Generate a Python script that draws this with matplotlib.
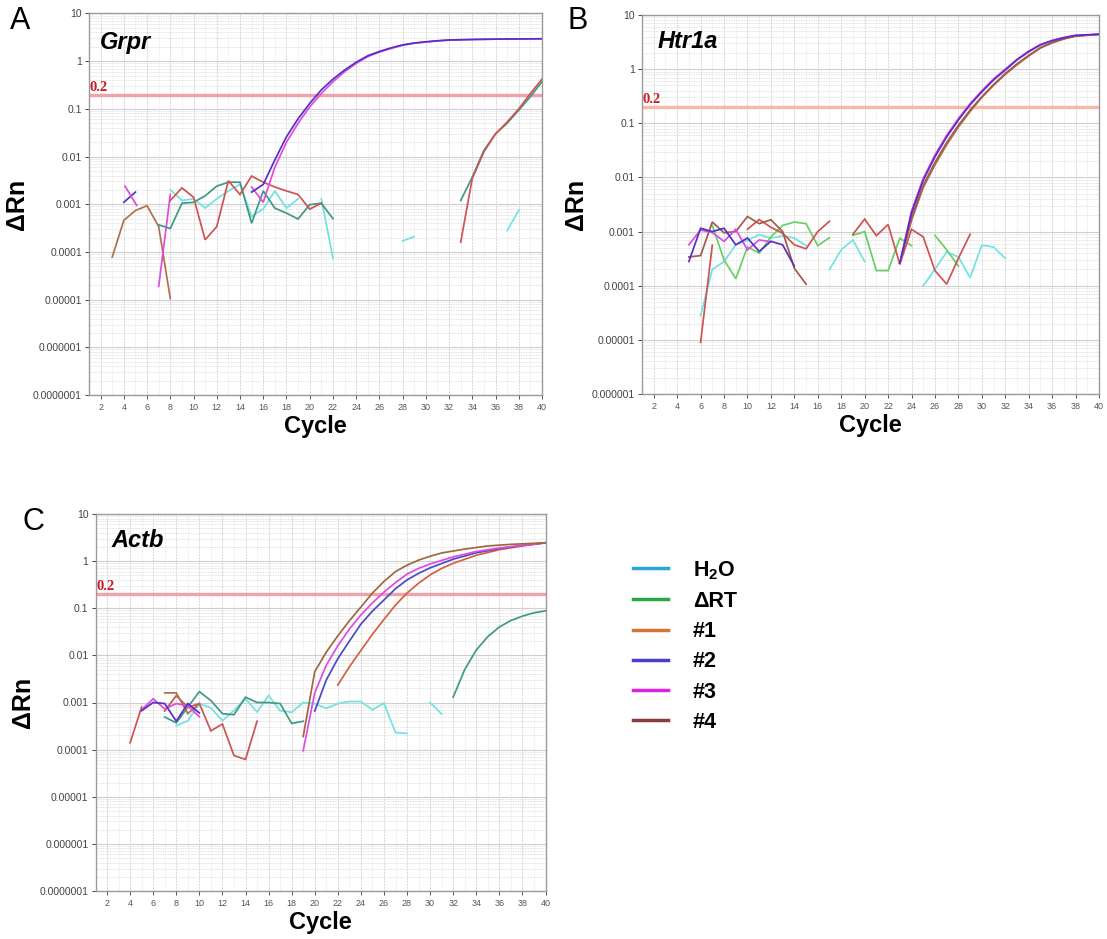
import numpy as np
import matplotlib
matplotlib.use("Agg")
import matplotlib.pyplot as plt
from matplotlib.lines import Line2D
from matplotlib.ticker import FixedLocator, NullFormatter, LogLocator

plt.rcParams['font.family'] = ['Liberation Sans', 'DejaVu Sans']
plt.rcParams['mathtext.fontset'] = 'custom'
plt.rcParams['mathtext.rm'] = 'Liberation Sans'
plt.rcParams['mathtext.bf'] = 'Liberation Sans:bold'

# ---------------- data ----------------
threshold = 0.2
cycle_ticks = list(range(2, 41, 2))

# Panel A: Grpr
grpr_brown_x = [3, 4, 5, 6, 7, 8]
grpr_brown_y = [7.8e-5, 4.6e-4, 7.4e-4, 9.3e-4, 3.4e-4, 1.05e-5]
grpr_xp_x = [4.0, 5.0]
grpr_xp_y = [1.1e-3, 1.8e-3]
grpr_xm_x = [4.1, 5.1]
grpr_xm_y = [2.4e-3, 0.95e-3]
grpr_mag0_x = [7, 8]
grpr_mag0_y = [1.9e-5, 1.6e-3]
grpr_red_x = [8, 9, 10, 11, 12, 13, 14, 15, 16, 17, 18, 19, 20, 21]
grpr_red_y = [1.2e-3, 2.2e-3, 1.4e-3, 1.8e-4, 3.4e-4, 3.1e-3, 1.6e-3, 3.9e-3,
              2.9e-3, 2.3e-3, 1.9e-3, 1.6e-3, 7.9e-4, 1.05e-3]
grpr_teal_x = [7, 8, 9, 10, 11, 12, 13, 14, 15, 16, 17, 18, 19, 20, 21, 22]
grpr_teal_y = [3.7e-4, 3.1e-4, 1.05e-3, 1.1e-3, 1.5e-3, 2.4e-3, 2.9e-3, 2.9e-3,
               4.0e-4, 1.9e-3, 8.3e-4, 6.5e-4, 4.9e-4, 9.8e-4, 1.05e-3, 5.0e-4]
grpr_cyan_x = [8, 9, 10, 11, 12, 13, 14, 15, 16, 17, 18, 19, np.nan, 21, 22,
               np.nan, 28, 29, np.nan, 37, 38]
grpr_cyan_y = [2.0e-3, 1.2e-3, 1.3e-3, 8.3e-4, 1.3e-3, 1.9e-3, 2.6e-3, 5.5e-4,
               8.0e-4, 1.9e-3, 8.3e-4, 1.3e-3, np.nan, 1.3e-3, 7.5e-5,
               np.nan, 1.7e-4, 2.1e-4, np.nan, 2.8e-4, 7.5e-4]
grpr_purple_x = [15, 16, 17, 18, 19, 20, 21, 22, 23, 24, 25, 26, 27, 28, 29, 30,
                 31, 32, 34, 36, 38, 40]
grpr_purple_y = [1.8e-3, 2.6e-3, 8.5e-3, 0.026, 0.062, 0.13, 0.25, 0.42, 0.65, 0.95,
                 1.3, 1.6, 1.9, 2.2, 2.4, 2.55, 2.68, 2.78, 2.85, 2.9, 2.93, 2.95]
grpr_magenta_x = [15, 16, 17, 18, 19, 20, 21, 22, 23, 24, 25, 26, 27, 28, 29, 30,
                  31, 32, 34, 36, 38, 40]
grpr_magenta_y = [2.3e-3, 1.1e-3, 6.0e-3, 0.02, 0.05, 0.11, 0.21, 0.37, 0.6, 0.9,
                  1.25, 1.55, 1.85, 2.15, 2.38, 2.53, 2.66, 2.77, 2.85, 2.9, 2.93, 2.95]
grpr_lteal_x = [33, 34, 35, 36, 37, 38, 39, 40]
grpr_lteal_y = [1.2e-3, 3.7e-3, 0.0135, 0.03, 0.05, 0.094, 0.18, 0.37]
grpr_lred_x = [33, 34, 35, 36, 37, 38, 39, 40]
grpr_lred_y = [1.6e-4, 3.5e-3, 0.0126, 0.03, 0.053, 0.1, 0.21, 0.42]

# Panel B: Htr1a
htr_cyan_x = [6, 7, 8, 9, 10, 11, 12, 13, 14, 15, np.nan, 17, 18, 19, 20,
              np.nan, 25, 26, 27, 28, 29, 30, 31, 32]
htr_cyan_y = [2.8e-5, 2.0e-4, 2.8e-4, 5.7e-4, 6.9e-4, 8.7e-4, 7.6e-4, 8.3e-4,
              7.6e-4, 5.5e-4, np.nan, 2.0e-4, 4.6e-4, 7.0e-4, 2.8e-4,
              np.nan, 1.0e-4, 2.0e-4, 4.2e-4, 3.4e-4, 1.4e-4, 5.6e-4, 5.2e-4, 3.2e-4]
htr_green_x = [7, 8, 9, 10, 11, 12, 13, 14, 15, 16, 17, np.nan, 19, 20, 21, 22,
               23, 24, np.nan, 26, 27, 28]
htr_green_y = [1.3e-3, 3.0e-4, 1.35e-4, 5.2e-4, 4.0e-4, 8.0e-4, 1.3e-3, 1.5e-3,
               1.4e-3, 5.5e-4, 7.7e-4, np.nan, 8.5e-4, 1.0e-3, 1.9e-4, 1.9e-4,
               7.5e-4, 5.5e-4, np.nan, 8.5e-4, 4.6e-4, 2.3e-4]
htr_red_x = [6, 7, np.nan, 10, 11, 12, 13, 14, 15, 16, 17, np.nan, 19, 20, 21,
             22, 23, 24, 25, 26, 27, 28, 29]
htr_red_y = [9.0e-6, 5.6e-4, np.nan, 1.1e-3, 1.67e-3, 1.2e-3, 9.3e-4, 5.7e-4,
             4.8e-4, 1.0e-3, 1.55e-3, np.nan, 8.9e-4, 1.7e-3, 8.4e-4, 1.35e-3,
             2.5e-4, 1.1e-3, 8.0e-4, 1.9e-4, 1.07e-4, 3.2e-4, 8.9e-4]
htr_brown_x = [5, 6, 7, 8, 9, 10, 11, 12, 13, 14, 15]
htr_brown_y = [3.4e-4, 3.6e-4, 1.5e-3, 9.5e-4, 1.0e-3, 1.9e-3, 1.4e-3, 1.65e-3,
               1.0e-3, 2.1e-4, 1.07e-4]
htr_magenta_x = [5, 6, 7, 8, 9, 10, 11, 12]
htr_magenta_y = [5.7e-4, 1.07e-3, 9.6e-4, 6.6e-4, 1.1e-3, 4.6e-4, 7.0e-4, 6.5e-4]
htr_purple_x = [5, 6, 7, 8, 9, 10, 11, 12, 13, 14]
htr_purple_y = [2.8e-4, 1.15e-3, 1.0e-3, 1.15e-3, 5.7e-4, 7.6e-4, 4.3e-4, 6.6e-4,
                5.7e-4, 2.3e-4]
htr_amp_x = [23, 24, 25, 26, 27, 28, 29, 30, 31, 32, 33, 34, 35, 36, 37, 38, 40]
htr_amp2_y = [2.6e-4, 2.2e-3, 8.9e-3, 0.024, 0.056, 0.115, 0.22, 0.38, 0.63, 0.96,
              1.48, 2.1, 2.8, 3.35, 3.8, 4.2, 4.4]
htr_amp3_y = [2.6e-4, 2.4e-3, 9.6e-3, 0.026, 0.06, 0.122, 0.23, 0.4, 0.66, 1.0,
              1.52, 2.15, 2.85, 3.4, 3.85, 4.2, 4.4]
htr_amp1_y = [2.6e-4, 1.6e-3, 6.5e-3, 0.017, 0.04, 0.085, 0.165, 0.3, 0.5, 0.8,
              1.2, 1.75, 2.45, 3.05, 3.6, 4.05, 4.4]
htr_amp4_y = [2.6e-4, 1.8e-3, 7.2e-3, 0.019, 0.044, 0.092, 0.175, 0.31, 0.52, 0.83,
              1.25, 1.8, 2.5, 3.1, 3.65, 4.1, 4.4]

# Panel C: Actb
actb_cyan_x = [8, 9, 10, 11, 12, 13, 14, 15, 16, 17, 18, 19, 20, 21, 22, 23, 24,
               25, 26, 27, 28, np.nan, 30, 31]
actb_cyan_y = [3.2e-4, 4.1e-4, 9.5e-4, 7.7e-4, 4.1e-4, 6.8e-4, 1.2e-3, 6.3e-4,
               1.4e-3, 6.7e-4, 6.2e-4, 1.0e-3, 9.5e-4, 7.5e-4, 9.5e-4, 1.05e-3,
               1.05e-3, 7.0e-4, 9.7e-4, 2.3e-4, 2.2e-4, np.nan, 1.0e-3, 5.7e-4]
actb_teal_x = [7, 8, 9, 10, 11, 12, 13, 14, 15, 16, 17, 18, 19]
actb_teal_y = [4.9e-4, 3.7e-4, 8.0e-4, 1.7e-3, 1.1e-3, 5.8e-4, 5.5e-4, 1.3e-3,
               1.0e-3, 1.0e-3, 9.5e-4, 3.6e-4, 4.0e-4]
actb_lteal_x = [32, 33, 34, 35, 36, 37, 38, 39, 40]
actb_lteal_y = [1.3e-3, 5.0e-3, 0.013, 0.025, 0.04, 0.055, 0.068, 0.08, 0.088]
actb_red_x = [4, 5, np.nan, 7, 8, 9, 10, 11, 12, 13, 14, 15]
actb_red_y = [1.4e-4, 8.0e-4, np.nan, 6.6e-4, 1.4e-3, 7.9e-4, 9.5e-4, 2.5e-4,
              3.5e-4, 7.5e-5, 6.2e-5, 4.0e-4]
actb_brown_x = [7, 8, 9, 10]
actb_brown_y = [1.6e-3, 1.6e-3, 5.8e-4, 9.5e-4]
actb_purple0_x = [5, 6, 7, 8, 9, 10]
actb_purple0_y = [6.7e-4, 1.0e-3, 9.5e-4, 4.0e-4, 9.5e-4, 6.0e-4]
actb_magenta0_x = [5, 6, 7, 8, 9, 10]
actb_magenta0_y = [7.0e-4, 1.2e-3, 7.3e-4, 9.5e-4, 8.5e-4, 5.0e-4]
actb_amp4_x = [19, 20, 21, 22, 23, 24, 25, 26, 27, 28, 29, 30, 31, 33, 35, 37, 40]
actb_amp4_y = [1.9e-4, 4.5e-3, 0.0117, 0.026, 0.054, 0.106, 0.21, 0.37, 0.6, 0.82,
               1.05, 1.27, 1.49, 1.8, 2.1, 2.27, 2.45]
actb_amp3_x = [19, 20, 21, 22, 23, 24, 25, 26, 27, 28, 29, 30, 32, 34, 36, 38, 40]
actb_amp3_y = [9.5e-5, 1.6e-3, 6.2e-3, 0.016, 0.036, 0.072, 0.13, 0.22, 0.35, 0.53,
               0.7, 0.87, 1.23, 1.6, 1.9, 2.15, 2.45]
actb_amp2_x = [20, 21, 22, 23, 24, 25, 26, 27, 28, 29, 30, 32, 34, 36, 38, 40]
actb_amp2_y = [6.6e-4, 3.0e-3, 8.5e-3, 0.02, 0.046, 0.087, 0.15, 0.26, 0.4, 0.55,
               0.72, 1.1, 1.5, 1.85, 2.15, 2.45]
actb_amp1_x = [22, 23, 24, 25, 26, 27, 28, 29, 30, 31, 32, 34, 36, 38, 40]
actb_amp1_y = [2.35e-3, 5.7e-3, 0.0127, 0.028, 0.058, 0.117, 0.21, 0.34, 0.51, 0.7,
               0.9, 1.33, 1.75, 2.1, 2.45]

legend_labels = [r'$\mathbf{H_2O}$', 'ΔRT', '#1', '#2', '#3', '#4']
legend_colors = ['#2aa7d9', '#27a844', '#d4733a', '#4a3bd1', '#e01fe0', '#8a3c3c']

# plot colours (as they appear in the instrument plots)
C_CYAN = '#72e2e2'
C_TEAL = '#3f9986'
C_GREEN = '#66d066'
C_RED = '#d05252'
C_BROWN = '#a45a48'
C_OBROWN = '#b0704c'
C_PURPLE = '#5530c6'
C_MAGENTA = '#e04ae0'
C_BLUE = '#4a4ac8'

W = 1107
H = 939
fig = plt.figure(figsize=(W / 100, H / 100), dpi=100)


def make_axes(px_left, px_right, px_top, px_bottom, ymin):
    ax = fig.add_axes([px_left / W, 1 - px_bottom / H,
                       (px_right - px_left) / W, (px_bottom - px_top) / H])
    ax.set_yscale('log')
    ax.set_xlim(1, 40)
    ax.set_ylim(ymin, 10)
    decs = [10.0 ** k for k in range(int(round(np.log10(ymin))), 2)]
    ax.set_yticks(decs)
    ax.set_yticklabels([('%.*f' % (max(0, -int(round(np.log10(d)))), d)) for d in decs])
    ax.yaxis.set_minor_locator(LogLocator(base=10, subs=np.arange(2, 10)))
    ax.yaxis.set_minor_formatter(NullFormatter())
    ax.set_xticks(cycle_ticks)
    ax.set_xticklabels([str(c) for c in cycle_ticks])
    ax.xaxis.set_minor_locator(FixedLocator(list(range(1, 41))))
    ax.tick_params(axis='y', which='major', labelsize=7.5, colors='#444444',
                   length=3, width=0.7, pad=2)
    ax.tick_params(axis='x', which='major', labelsize=6.5, colors='#555555',
                   length=3, width=0.7, pad=3)
    ax.tick_params(which='minor', length=0)
    ax.grid(True, which='major', axis='y', color='#cfcfcf', lw=0.8)
    ax.grid(True, which='minor', axis='y', color='#d9d9d9', lw=0.6, ls=(0, (1, 1)))
    ax.grid(True, which='major', axis='x', color='#d6d6d6', lw=0.7, ls=(0, (2, 1)))
    ax.grid(True, which='minor', axis='x', color='#dedede', lw=0.6, ls=(0, (1, 1.5)))
    ax.set_axisbelow(True)
    for s in ax.spines.values():
        s.set_color('#9a9a9a')
        s.set_linewidth(1.0)
    ax.set_xlabel('Cycle', fontsize=17, fontweight='bold', labelpad=2)
    ax.set_ylabel('ΔRn', fontsize=18, fontweight='bold', labelpad=3)
    return ax


def threshold_line(ax, color):
    ax.axhline(threshold, color=color, lw=2.4, zorder=2)
    ax.text(1.05, threshold * 1.05, '0.2', fontsize=10.5, fontweight='bold',
            family=['Liberation Serif'], color='#c81e28', ha='left', va='bottom', zorder=6)


def draw(ax, series):
    for x, y, c in series:
        ax.plot(x, y, color=c, lw=1.25, zorder=3, solid_joinstyle='miter')


# ---- Panel A ----
axA = make_axes(89, 542, 13.5, 395, 1e-7)
threshold_line(axA, '#f2a2aa')
draw(axA, [
    (grpr_brown_x, grpr_brown_y, C_OBROWN),
    (grpr_xp_x, grpr_xp_y, C_PURPLE),
    (grpr_xm_x, grpr_xm_y, C_MAGENTA),
    (grpr_mag0_x, grpr_mag0_y, C_MAGENTA),
    (grpr_cyan_x, grpr_cyan_y, C_CYAN),
    (grpr_teal_x, grpr_teal_y, C_TEAL),
    (grpr_red_x, grpr_red_y, C_RED),
    (grpr_magenta_x, grpr_magenta_y, C_MAGENTA),
    (grpr_purple_x, grpr_purple_y, C_PURPLE),
    (grpr_lteal_x, grpr_lteal_y, C_TEAL),
    (grpr_lred_x, grpr_lred_y, C_RED),
])
axA.text(0.025, 0.925, 'Grpr', transform=axA.transAxes, fontsize=17,
         fontweight='bold', style='italic', va='center', ha='left')
fig.text(10 / W, 1 - 21 / H, 'A', fontsize=22, va='center', ha='left')

# ---- Panel B ----
axB = make_axes(642, 1099, 15, 394, 1e-6)
threshold_line(axB, '#f7b8aa')
draw(axB, [
    (htr_cyan_x, htr_cyan_y, C_CYAN),
    (htr_green_x, htr_green_y, C_GREEN),
    (htr_red_x, htr_red_y, C_RED),
    (htr_brown_x, htr_brown_y, C_BROWN),
    (htr_magenta_x, htr_magenta_y, C_MAGENTA),
    (htr_purple_x, htr_purple_y, C_PURPLE),
    (htr_amp_x, htr_amp1_y, C_OBROWN),
    (htr_amp_x, htr_amp4_y, C_BROWN),
    (htr_amp_x, htr_amp3_y, C_MAGENTA),
    (htr_amp_x, htr_amp2_y, C_PURPLE),
])
axB.text(0.035, 0.93, 'Htr1a', transform=axB.transAxes, fontsize=17,
         fontweight='bold', style='italic', va='center', ha='left')
fig.text(567 / W, 1 - 21 / H, 'B', fontsize=22, va='center', ha='left')

# ---- Panel C ----
axC = make_axes(95.5, 545.5, 514, 891, 1e-7)
threshold_line(axC, '#f2a2aa')
draw(axC, [
    (actb_cyan_x, actb_cyan_y, C_CYAN),
    (actb_teal_x, actb_teal_y, C_TEAL),
    (actb_lteal_x, actb_lteal_y, C_TEAL),
    (actb_red_x, actb_red_y, C_RED),
    (actb_brown_x, actb_brown_y, C_OBROWN),
    (actb_magenta0_x, actb_magenta0_y, C_MAGENTA),
    (actb_purple0_x, actb_purple0_y, C_PURPLE),
    (actb_amp1_x, actb_amp1_y, '#d4603c'),
    (actb_amp2_x, actb_amp2_y, C_BLUE),
    (actb_amp3_x, actb_amp3_y, C_MAGENTA),
    (actb_amp4_x, actb_amp4_y, '#a0683e'),
])
axC.text(0.035, 0.93, 'Actb', transform=axC.transAxes, fontsize=17,
         fontweight='bold', style='italic', va='center', ha='left')
fig.text(22 / W, 1 - 522 / H, 'C', fontsize=22, va='center', ha='left')

# ---- legend ----
handles = [Line2D([], [], color=c, lw=2.5) for c in legend_colors]
fig.legend(handles, legend_labels, loc='upper left',
           bbox_to_anchor=(633 / W, 1 - 559 / H), frameon=False,
           prop={'size': 15.5, 'weight': 'bold'}, handlelength=1.63,
           handletextpad=1.16, labelspacing=0.43, borderpad=0, borderaxespad=0)

fig.savefig('out.png', dpi=100)
